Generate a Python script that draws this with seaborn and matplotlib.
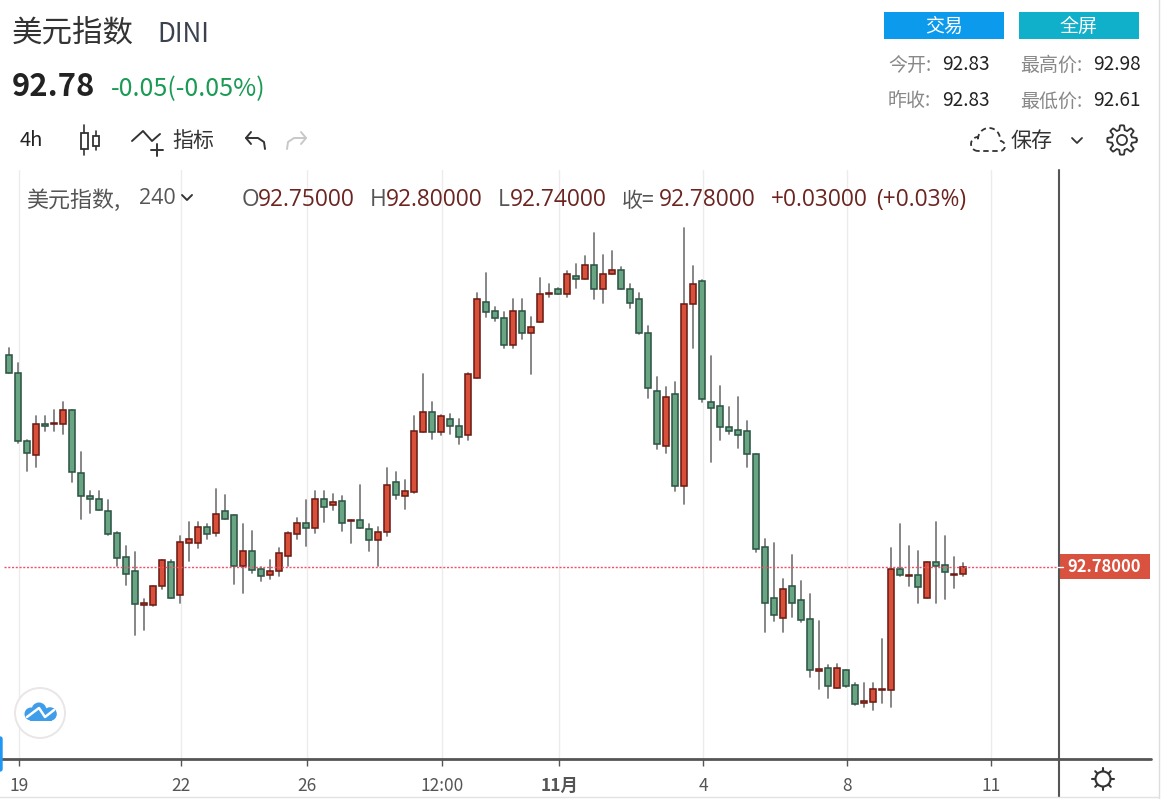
import matplotlib
matplotlib.use('Agg')
import matplotlib.pyplot as plt
from matplotlib.patches import Rectangle, Circle, FancyBboxPatch
import seaborn as sns
import pandas as pd
import numpy as np

opens = [93.724, 93.644, 93.341, 93.279, 93.417, 93.414, 93.414, 93.476, 93.196, 93.096,
         93.082, 93.029, 92.930, 92.823, 92.762, 92.612, 92.612, 92.694, 92.802, 92.654,
         92.887, 92.887, 92.956, 92.932, 93.029, 93.010, 92.786, 92.850, 92.770, 92.746,
         92.761, 92.828, 92.927, 92.977, 92.955, 93.082, 93.054, 93.075, 92.984, 92.989,
         92.949, 92.900, 92.934, 93.156, 93.094, 93.113, 93.380, 93.469, 93.380, 93.436,
         93.408, 93.367, 93.621, 93.956, 93.916, 93.888, 93.767, 93.916, 93.820, 93.868,
         93.992, 94.017, 93.995, 94.075, 94.060, 94.122, 94.014, 94.081, 94.101, 94.016,
         93.970, 93.821, 93.561, 93.319, 93.549, 93.140, 93.948, 94.050, 93.515, 93.496,
         93.402, 93.389, 93.383, 93.282, 92.869, 92.642, 92.553, 92.696, 92.635, 92.549,
         92.319, 92.330, 92.241, 92.322, 92.256, 92.174, 92.180, 92.232, 92.233, 92.770,
         92.739, 92.743, 92.641, 92.804, 92.790, 92.746, 92.750]
closes = [93.641, 93.341, 93.287, 93.416, 93.407, 93.419, 93.476, 93.201, 93.094, 93.081,
          93.033, 92.927, 92.820, 92.748, 92.614, 92.619, 92.696, 92.810, 92.641, 92.890,
          92.903, 92.956, 92.927, 93.016, 92.995, 92.786, 92.850, 92.767, 92.740, 92.762,
          92.842, 92.930, 92.976, 92.955, 93.082, 93.047, 93.069, 92.974, 92.990, 92.953,
          92.900, 92.936, 93.143, 93.100, 93.116, 93.383, 93.469, 93.380, 93.450, 93.407,
          93.359, 93.636, 93.970, 93.913, 93.887, 93.767, 93.916, 93.820, 93.848, 93.995,
          93.996, 93.993, 94.082, 94.060, 94.122, 94.014, 94.082, 94.101, 94.014, 93.955,
          93.820, 93.574, 93.328, 93.536, 93.140, 93.949, 94.036, 93.525, 93.487, 93.401,
          93.386, 93.367, 93.281, 92.860, 92.620, 92.567, 92.682, 92.620, 92.546, 92.321,
          92.325, 92.252, 92.330, 92.252, 92.172, 92.183, 92.236, 92.236, 92.770, 92.746,
          92.743, 92.692, 92.802, 92.786, 92.759, 92.750, 92.780]
highs = [93.752, 93.685, 93.344, 93.451, 93.451, 93.478, 93.512, 93.476, 93.290, 93.118,
         93.118, 93.078, 92.937, 92.872, 92.845, 92.638, 92.696, 92.810, 92.810, 92.916,
         92.979, 92.979, 92.970, 93.125, 93.099, 93.010, 92.970, 92.939, 92.781, 92.811,
         92.863, 92.937, 92.998, 93.078, 93.118, 93.118, 93.103, 93.097, 92.990, 93.144,
         92.971, 92.956, 93.219, 93.204, 93.165, 93.451, 93.638, 93.512, 93.457, 93.459,
         93.436, 93.644, 93.996, 94.085, 93.937, 93.915, 93.971, 93.971, 93.890, 94.063,
         94.036, 94.019, 94.097, 94.125, 94.164, 94.263, 94.165, 94.183, 94.115, 94.036,
         93.996, 93.850, 93.623, 93.581, 93.604, 94.285, 94.116, 94.057, 93.718, 93.583,
         93.491, 93.537, 93.430, 93.282, 92.903, 92.885, 92.725, 92.832, 92.716, 92.659,
         92.539, 92.343, 92.350, 92.324, 92.263, 92.264, 92.264, 92.459, 92.863, 92.971,
         92.872, 92.851, 92.802, 92.979, 92.916, 92.824, 92.800]
lows = [93.641, 93.332, 93.205, 93.226, 93.386, 93.386, 93.372, 93.159, 92.992, 93.019,
        93.033, 92.921, 92.784, 92.699, 92.479, 92.499, 92.607, 92.681, 92.641, 92.619,
        92.805, 92.866, 92.904, 92.919, 92.995, 92.706, 92.666, 92.752, 92.719, 92.725,
        92.739, 92.783, 92.906, 92.873, 92.932, 92.979, 93.032, 92.940, 92.885, 92.953,
        92.852, 92.786, 92.919, 93.081, 93.039, 93.108, 93.380, 93.350, 93.365, 93.372,
        93.325, 93.346, 93.621, 93.892, 93.873, 93.752, 93.752, 93.792, 93.639, 93.868,
        93.979, 93.993, 93.979, 94.019, 94.060, 93.972, 93.953, 94.081, 94.014, 93.932,
        93.814, 93.532, 93.306, 93.285, 93.119, 93.059, 93.752, 93.512, 93.245, 93.346,
        93.372, 93.310, 93.226, 92.845, 92.492, 92.539, 92.492, 92.559, 92.534, 92.292,
        92.239, 92.199, 92.241, 92.245, 92.165, 92.159, 92.146, 92.177, 92.159, 92.739,
        92.697, 92.619, 92.641, 92.619, 92.639, 92.685, 92.740]

tick_positions = [1.1, 19.1, 33.1, 48.1, 61.1, 77.1, 93.1, 109.1]
tick_labels = ['19', '22', '26', '12:00', '11月', '4', '8', '11']
last_price = 92.78

W, H = 1168, 799
RED, GREEN = '#d9503a', '#69a583'
RED_EDGE, GREEN_EDGE = '#6e1c14', '#2d5546'

sns.set_theme(style='white')
plt.rcParams['font.family'] = ['Noto Sans CJK SC', 'DejaVu Sans']

df = pd.DataFrame({'candle': range(len(opens)), 'open': opens, 'high': highs, 'low': lows, 'close': closes})
df['top'] = df[['open', 'close']].max(axis=1)
df['bottom'] = df[['open', 'close']].min(axis=1)
df['height'] = df['top'] - df['bottom']
wicks = df.melt(id_vars='candle', value_vars=['low', 'high'], value_name='price')

fig = plt.figure(figsize=(W / 100, H / 100), dpi=100)
ax = fig.add_axes([0, 1 - 759 / H, 1058 / W, (759 - 170) / H])

sns.lineplot(data=wicks, x='candle', y='price', units='candle', estimator=None,
             color='#7d7d7d', linewidth=1.3, ax=ax, zorder=2)
for is_up, face, edge in [(True, RED, RED_EDGE), (False, GREEN, GREEN_EDGE)]:
    part = df[(df['close'] >= df['open']) == is_up]
    sns.barplot(x=part['candle'].values, y=part['height'].values, bottom=part['bottom'].values,
                native_scale=True, errorbar=None, width=0.72, color=face, saturation=1,
                edgecolor=edge, linewidth=1.15, ax=ax, zorder=3)

ax.axhline(last_price, xmin=4 / 1058, color='#f0506a', linewidth=1, linestyle=(0, (1.5, 1.2)), zorder=4)
ax.set_xlim(-9.2 / 9, (1058 - 9.2) / 9)
ax.set_ylim(95.30 - 759 / 225, 95.30 - 170 / 225)
ax.set_xlabel('')
ax.set_ylabel('')
ax.set_yticks([])
ax.set_xticks(tick_positions, tick_labels)
ax.grid(axis='x', color='#ececec', linewidth=1)
ax.set_axisbelow(True)
ax.tick_params(axis='x', length=5, width=1, color='#555555', labelcolor='#555555',
               labelsize=12.5, pad=8, bottom=True)
ax.get_xticklabels()[4].set_fontweight('bold')
for side in ['top', 'left', 'right']:
    ax.spines[side].set_visible(False)
ax.spines['bottom'].set_color('#555555')
ax.spines['bottom'].set_linewidth(2)

ui = fig.add_axes([0, 0, 1, 1], zorder=5)
ui.set_xlim(0, W)
ui.set_ylim(H, 0)
ui.axis('off')
ui.patch.set_alpha(0)


def put(x, y, s, px, color='#333333', ha='left', weight='normal', family=None):
    ui.text(x, y, s, fontsize=px * 0.72, color=color, ha=ha, va='center', fontweight=weight,
            family=family if family else plt.rcParams['font.family'])


def stroke(xs, ys, color='#333333', lw=1.3, **kw):
    ui.plot(xs, ys, color=color, linewidth=lw, solid_capstyle='round', **kw)


# header
put(12, 33, '美元指数', 30.5)
put(157, 34, 'DINI', 26, color='#3a4250')
put(12, 87, '92.78', 31, color='#222222', weight='bold')
put(111, 89, '-0.05(-0.05%)', 25, color='#1a9a55')

# toolbar
put(20, 141, '4h', 20, color='#222222')
stroke([84, 84], [125, 155], lw=1.2)
ui.add_patch(Rectangle((80.5, 133), 7, 16, facecolor='white', edgecolor='#333333', linewidth=1.3, zorder=3))
stroke([96, 96], [131, 150], lw=1.2)
ui.add_patch(Rectangle((93, 135.5), 6, 10, facecolor='white', edgecolor='#333333', linewidth=1.3, zorder=3))
stroke([132, 143, 152, 160], [141, 131, 141, 134], lw=1.4)
stroke([151, 163], [150, 150], lw=1.4)
stroke([157, 157], [144, 156], lw=1.4)
put(172, 141, '指标', 21)
stroke([251, 246, 251], [132, 138, 144], lw=1.4)
stroke([246, 258, 264, 265], [138, 138, 142, 149], lw=1.4)
stroke([301, 306, 301], [132, 138, 144], color='#c8c8c8', lw=1.4)
stroke([306, 294, 288, 287], [138, 138, 142, 149], color='#c8c8c8', lw=1.4)

# buttons and day stats
ui.add_patch(Rectangle((884, 12), 120, 27, color='#0c9aec', linewidth=0))
ui.add_patch(Rectangle((1019, 12), 120, 27, color='#10afca', linewidth=0))
put(944, 26, '交易', 19, color='white', ha='center')
put(1079, 26, '全屏', 19, color='white', ha='center')
put(888, 65, '今开:', 19, color='#888888')
put(942, 65, '92.83', 19, color='#222222')
put(1020, 65, '最高价:', 19, color='#888888')
put(1093, 65, '92.98', 19, color='#222222')
put(888, 101, '昨收:', 19, color='#888888')
put(942, 101, '92.83', 19, color='#222222')
put(1020, 101, '最低价:', 19, color='#888888')
put(1093, 101, '92.61', 19, color='#222222')

# save and settings
left = np.linspace(np.pi / 2, 1.5 * np.pi, 14)
dome = np.linspace(np.pi * 1.05, 0.05 * np.pi, 24)
right = np.linspace(0.45 * np.pi, -np.pi / 2, 10)
cloud_x = np.r_[978 + 7 * np.cos(left), 989 + 11 * np.cos(dome), 1000 + 5 * np.cos(right)]
cloud_y = np.r_[144 + 7 * np.sin(left), 139 - 11 * np.sin(dome), 146 - 5 * np.sin(right)]
ui.plot(np.r_[cloud_x, 978], np.r_[cloud_y, 151], color='#333333', linewidth=1.3, linestyle=(0, (3, 2)))
put(1011, 141, '保存', 21)
stroke([1072, 1077, 1082], [138, 143, 138], lw=1.3)
a = np.linspace(0, 2 * np.pi, 241)
r = 12.5 + 2.2 * np.clip(np.cos(8 * a) * 2.2, -1, 1)
ui.plot(1122 + r * np.cos(a), 140 + r * np.sin(a), color='#333333', linewidth=1.3)
ui.add_patch(Circle((1122, 140), 5, fill=False, edgecolor='#333333', linewidth=1.3))

# legend line over the chart
LEGEND_FONT = ['Open Sans', 'DejaVu Sans']
put(26, 201, '美元指数,', 22, color='#555555')
put(139, 198, '240', 21.5, color='#555555', family=LEGEND_FONT)
stroke([182, 187, 192], [195, 200, 195], color='#333333', lw=1.4)
DARK = '#6b2420'
put(242, 200, 'O', 22.7, color='#555555', family=LEGEND_FONT)
put(258, 200, '92.75000', 22.7, color=DARK, family=LEGEND_FONT)
put(370, 200, 'H', 22.7, color='#555555', family=LEGEND_FONT)
put(386, 200, '92.80000', 22.7, color=DARK, family=LEGEND_FONT)
put(498, 200, 'L', 22.7, color='#555555', family=LEGEND_FONT)
put(510, 200, '92.74000', 22.7, color=DARK, family=LEGEND_FONT)
put(622, 201, '收=', 21, color='#555555')
put(659, 200, '92.78000', 22.7, color=DARK, family=LEGEND_FONT)
put(771, 200, '+0.03000', 22.7, color=DARK, family=LEGEND_FONT)
put(876, 200, '(+0.03%)', 22.7, color=DARK, family=LEGEND_FONT)

# right scale and frame
stroke([1058.5, 1058.5], [170, 797], color='#555555', lw=1.5)
stroke([1058, 1151], [759, 759], color='#555555', lw=2)
ui.add_patch(Rectangle((1058, 554), 92, 25, color='#d9523f', linewidth=0))
stroke([1058, 1063], [566.5, 566.5], color='white', lw=1)
put(1104.5, 567, '92.78000', 16.5, color='white', ha='center', weight='bold')
stroke([1159, 1159], [0, 799], color='#dddddd', lw=1)
stroke([0, 1159], [797, 797], color='#e2e2e2', lw=1)

# day/night icon
ui.add_patch(Circle((1103, 779), 7.5, fill=False, edgecolor='#333333', linewidth=1.5))
for ang in np.arange(0, 2 * np.pi, np.pi / 4):
    stroke([1103 + 8 * np.cos(ang), 1103 + 11 * np.cos(ang)],
           [779 + 8 * np.sin(ang), 779 + 11 * np.sin(ang)], lw=1.5)

# logo and side tab
ui.add_patch(Circle((40, 713), 25, facecolor='white', edgecolor='#eae6e6', linewidth=1.4))
for cx, cy, rad in [(31, 714, 6.5), (39, 710, 7.5), (50, 714, 6.8)]:
    ui.add_patch(Circle((cx, cy), rad, color='#3f9dea', linewidth=0))
ui.add_patch(Rectangle((30, 713), 22, 8, color='#3f9dea', linewidth=0))
ui.plot([27, 39, 45, 54], [717, 708, 717, 710], color='white', linewidth=1.8)
ui.add_patch(FancyBboxPatch((-6, 737), 8, 34, boxstyle='round,pad=0,rounding_size=2', color='#2196f3',
                            linewidth=1, clip_on=True))

fig.savefig('out.png', dpi=100, facecolor='white')
